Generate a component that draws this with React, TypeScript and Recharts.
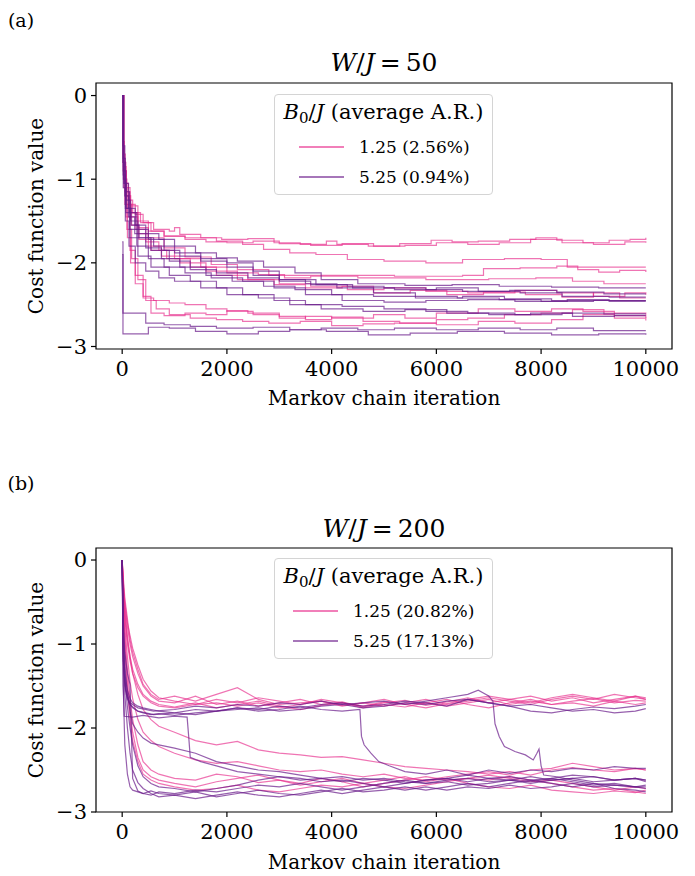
import React from "react"
import { LineChart, Line, XAxis, YAxis, ReferenceArea } from "recharts"

const PINK = "#e7298a"
const PURPLE = "#6a1b8a"
const FONT = "'DejaVu Serif', 'Noto Serif', 'Liberation Serif', serif"

const xTicks = [0, 2000, 4000, 6000, 8000, 10000]
const yTicks = [0, -1, -2, -3]

// (a) W/J = 50, B0/J = 1.25 — [iteration, cost] step points
const a125: number[][][] = [
  [[0, 0], [15, -0.55], [40, -0.9], [80, -1.15], [150, -1.3], [250, -1.42], [400, -1.52], [600, -1.6], [900, -1.62], [1000, -1.58], [1100, -1.66], [1500, -1.7], [1900, -1.72], [2400, -1.71], [2900, -1.76], [3400, -1.78], [3900, -1.74], [4100, -1.78], [4700, -1.8], [5300, -1.77], [5900, -1.73], [6300, -1.75], [6800, -1.74], [7400, -1.72], [7900, -1.7], [8300, -1.73], [8800, -1.76], [9300, -1.73], [9700, -1.72], [10000, -1.7]],
  [[0, 0], [20, -0.7], [60, -1.05], [120, -1.25], [200, -1.4], [350, -1.52], [550, -1.62], [800, -1.68], [1200, -1.72], [1600, -1.75], [2000, -1.76], [2500, -1.74], [3000, -1.77], [3600, -1.79], [4200, -1.77], [4800, -1.8], [5400, -1.79], [6000, -1.76], [6600, -1.78], [7200, -1.76], [7800, -1.72], [8400, -1.76], [9000, -1.78], [9600, -1.75], [10000, -1.76]],
  [[0, 0], [25, -0.8], [70, -1.1], [150, -1.32], [300, -1.5], [500, -1.62], [800, -1.68], [1200, -1.7], [1800, -1.74], [2300, -1.78], [2700, -1.84], [3200, -1.88], [3700, -1.9], [4300, -1.96], [5000, -1.98], [5800, -2.0], [6500, -1.96], [7300, -1.95], [8000, -1.96], [8500, -2.05], [10000, -2.05]],
  [[0, 0], [30, -0.9], [80, -1.2], [160, -1.4], [300, -1.58], [500, -1.7], [800, -1.82], [1200, -1.93], [1700, -2.02], [2200, -2.08], [2800, -2.15], [4000, -2.15], [5200, -2.16], [6500, -2.15], [6900, -2.07], [7600, -2.06], [8300, -2.04], [8700, -2.08], [9100, -2.11], [9500, -2.09], [10000, -2.11]],
  [[0, 0], [20, -0.8], [60, -1.15], [140, -1.4], [260, -1.6], [450, -1.75], [700, -1.85], [1000, -1.95], [1500, -2.05], [2000, -2.12], [2600, -2.14], [3100, -2.18], [3600, -2.16], [4500, -2.18], [5800, -2.2], [7000, -2.19], [7900, -2.18], [8600, -2.22], [9200, -2.25], [10000, -2.25]],
  [[0, 0], [30, -1.0], [90, -1.3], [180, -1.55], [320, -1.72], [550, -1.85], [850, -1.95], [1300, -2.05], [1800, -2.15], [2400, -2.2], [3000, -2.25], [3600, -2.28], [4300, -2.32], [5000, -2.3], [5800, -2.34], [6600, -2.36], [7500, -2.33], [8300, -2.36], [9000, -2.4], [9600, -2.36], [10000, -2.38]],
  [[0, 0], [25, -0.85], [75, -1.2], [160, -1.45], [300, -1.65], [500, -1.8], [750, -1.92], [1100, -2.0], [1600, -2.1], [2200, -2.2], [2900, -2.26], [3500, -2.3], [4200, -2.28], [4800, -2.36], [5500, -2.33], [6200, -2.38], [6900, -2.35], [7700, -2.38], [8400, -2.41], [9000, -2.36], [9500, -2.42], [10000, -2.42]],
  [[0, 0], [20, -0.9], [50, -1.3], [100, -1.7], [160, -2.0], [250, -2.25], [400, -2.42], [600, -2.45], [900, -2.48], [1200, -2.5], [1600, -2.55], [2000, -2.58], [2500, -2.62], [3000, -2.64], [3500, -2.68], [4000, -2.65], [4600, -2.7], [5300, -2.72], [6000, -2.68], [6600, -2.66], [7300, -2.62], [8000, -2.6], [8600, -2.56], [9200, -2.6], [10000, -2.62]],
  [[0, 0], [25, -1.0], [70, -1.45], [150, -1.85], [250, -2.15], [400, -2.4], [550, -2.6], [800, -2.63], [1200, -2.6], [1600, -2.62], [2000, -2.57], [2400, -2.6], [3000, -2.66], [3500, -2.64], [4000, -2.66], [4800, -2.62], [5400, -2.66], [6000, -2.6], [6800, -2.55], [7500, -2.58], [8200, -2.55], [8800, -2.58], [9400, -2.63], [10000, -2.66]],
  [[0, 0], [30, -1.1], [90, -1.6], [180, -1.95], [300, -2.2], [450, -2.45], [650, -2.55], [900, -2.62], [1300, -2.66], [1800, -2.68], [2300, -2.7], [2800, -2.72], [3400, -2.7], [4000, -2.75], [4600, -2.73], [5200, -2.72], [6000, -2.74], [6800, -2.7], [7500, -2.72], [8200, -2.68], [8800, -2.62], [9400, -2.66], [10000, -2.69]],
]

// (a) W/J = 50, B0/J = 5.25
const a525: number[][][] = [
  [[0, 0], [15, -0.6], [50, -1.05], [120, -1.35], [250, -1.55], [450, -1.65], [700, -1.72], [1000, -1.8], [1400, -1.88], [1800, -1.94], [2200, -1.98], [2700, -2.05], [3300, -2.12], [3800, -2.2], [4500, -2.25], [5400, -2.27], [6300, -2.26], [7200, -2.28], [8200, -2.29], [9100, -2.3], [10000, -2.3]],
  [[0, 0], [20, -0.75], [60, -1.15], [140, -1.4], [280, -1.6], [500, -1.72], [800, -1.85], [1100, -1.92], [1500, -1.98], [2000, -2.05], [2500, -2.15], [3000, -2.2], [3700, -2.26], [4300, -2.28], [5000, -2.3], [5800, -2.32], [6500, -2.34], [7400, -2.33], [8300, -2.35], [9200, -2.37], [10000, -2.37]],
  [[0, 0], [25, -0.9], [70, -1.25], [160, -1.5], [300, -1.7], [550, -1.85], [900, -1.98], [1300, -2.08], [1800, -2.12], [2400, -2.18], [3000, -2.22], [3600, -2.26], [4400, -2.3], [5200, -2.32], [6000, -2.3], [6800, -2.34], [7600, -2.36], [8400, -2.4], [9300, -2.41], [10000, -2.41]],
  [[0, 0], [15, -0.8], [50, -1.2], [120, -1.45], [240, -1.65], [450, -1.82], [750, -1.95], [1100, -2.05], [1600, -2.15], [2100, -2.22], [2700, -2.28], [3300, -2.32], [4000, -2.38], [4800, -2.4], [5600, -2.42], [6500, -2.4], [7300, -2.43], [8200, -2.45], [9100, -2.45], [10000, -2.45]],
  [[0, 0], [20, -0.95], [60, -1.35], [140, -1.6], [280, -1.8], [500, -1.95], [800, -2.05], [1200, -2.12], [1700, -2.18], [2300, -2.22], [2900, -2.3], [3500, -2.38], [4200, -2.45], [5000, -2.47], [5800, -2.45], [6600, -2.44], [7500, -2.46], [8500, -2.44], [9300, -2.46], [10000, -2.46]],
  [[0, 0], [25, -1.0], [70, -1.4], [150, -1.7], [300, -1.92], [550, -2.05], [900, -2.15], [1300, -2.22], [1800, -2.3], [2300, -2.38], [2900, -2.45], [3500, -2.5], [4200, -2.52], [5000, -2.55], [5800, -2.58], [6600, -2.6], [7500, -2.62], [8400, -2.6], [9200, -2.61], [10000, -2.61]],
  [[0, 0], [20, -1.1], [60, -1.5], [130, -1.8], [250, -2.0], [450, -2.1], [700, -2.18], [1000, -2.22], [1500, -2.3], [2000, -2.38], [2600, -2.42], [3200, -2.5], [3800, -2.55], [4600, -2.58], [5400, -2.56], [6200, -2.6], [7000, -2.62], [7800, -2.6], [8600, -2.64], [9400, -2.63], [10000, -2.63]],
  [[0, 0], [30, -1.05], [80, -1.35], [170, -1.55], [320, -1.7], [600, -1.8], [1000, -1.88], [1500, -1.95], [2000, -2.0], [2500, -2.1], [3000, -2.2], [3500, -2.25], [4100, -2.3], [4800, -2.36], [5600, -2.4], [6400, -2.42], [7200, -2.44], [8000, -2.46], [9000, -2.45], [10000, -2.45]],
  [[0, -1.75], [15, -2.6], [450, -2.72], [800, -2.74], [1300, -2.76], [1800, -2.78], [2500, -2.77], [3200, -2.8], [3800, -2.78], [4500, -2.8], [5200, -2.78], [6000, -2.8], [6800, -2.78], [7600, -2.8], [8300, -2.78], [9000, -2.81], [10000, -2.81]],
  [[0, -1.9], [15, -2.85], [500, -2.77], [900, -2.78], [1400, -2.82], [2000, -2.85], [2600, -2.82], [3200, -2.8], [3900, -2.82], [4700, -2.86], [5500, -2.84], [6400, -2.82], [7300, -2.84], [8200, -2.86], [9100, -2.85], [10000, -2.86]],
]

// (b) W/J = 200 — iterations shared by the traces below
const bGrid = [0, 20, 50, 100, 150, 200, 300, 400, 550, 700, 1000, 1400, 1800, 2200, 2600, 3000, 3400, 3800, 4200, 4600, 5000, 5400, 5800, 6200, 6600, 7000, 7400, 7800, 8200, 8600, 9000, 9400, 9800, 10000]

// (b) B0/J = 1.25
const b125: number[][] = [
  [0, -0.3, -0.55, -0.8, -1.0, -1.15, -1.35, -1.5, -1.62, -1.68, -1.7, -1.62, -1.72, -1.68, -1.74, -1.7, -1.66, -1.72, -1.69, -1.75, -1.7, -1.67, -1.73, -1.69, -1.64, -1.7, -1.66, -1.62, -1.68, -1.64, -1.7, -1.66, -1.62, -1.64],
  [0, -0.2, -0.45, -0.7, -0.95, -1.1, -1.3, -1.48, -1.6, -1.66, -1.62, -1.68, -1.6, -1.52, -1.66, -1.72, -1.7, -1.68, -1.73, -1.7, -1.74, -1.7, -1.66, -1.72, -1.68, -1.64, -1.68, -1.72, -1.66, -1.62, -1.66, -1.6, -1.64, -1.66],
  [0, -0.35, -0.65, -0.95, -1.15, -1.3, -1.48, -1.6, -1.68, -1.72, -1.75, -1.7, -1.76, -1.72, -1.68, -1.74, -1.78, -1.73, -1.7, -1.76, -1.72, -1.75, -1.7, -1.66, -1.72, -1.76, -1.7, -1.66, -1.72, -1.68, -1.65, -1.7, -1.67, -1.68],
  [0, -0.25, -0.5, -0.75, -0.9, -1.05, -1.25, -1.42, -1.56, -1.64, -1.68, -1.72, -1.66, -1.7, -1.64, -1.68, -1.72, -1.66, -1.7, -1.74, -1.69, -1.72, -1.76, -1.71, -1.66, -1.62, -1.66, -1.7, -1.64, -1.6, -1.64, -1.68, -1.62, -1.66],
  [0, -0.4, -0.7, -1.0, -1.2, -1.35, -1.52, -1.62, -1.7, -1.74, -1.76, -1.72, -1.7, -1.74, -1.7, -1.76, -1.72, -1.68, -1.74, -1.7, -1.66, -1.72, -1.7, -1.74, -1.7, -1.66, -1.72, -1.68, -1.72, -1.7, -1.74, -1.68, -1.72, -1.7],
  [0, -0.3, -0.6, -0.9, -1.15, -1.35, -1.6, -1.78, -1.9, -1.98, -2.05, -2.15, -2.2, -2.16, -2.26, -2.3, -2.32, -2.35, -2.34, -2.38, -2.42, -2.46, -2.48, -2.5, -2.52, -2.55, -2.52, -2.56, -2.5, -2.47, -2.5, -2.52, -2.48, -2.5],
  [0, -0.45, -0.8, -1.15, -1.45, -1.65, -1.9, -2.05, -2.15, -2.22, -2.3, -2.38, -2.42, -2.4, -2.45, -2.5, -2.52, -2.5, -2.55, -2.58, -2.55, -2.6, -2.62, -2.58, -2.55, -2.52, -2.56, -2.5, -2.48, -2.42, -2.46, -2.5, -2.48, -2.5],
  [0, -0.5, -0.9, -1.3, -1.65, -1.9, -2.2, -2.4, -2.5, -2.55, -2.6, -2.62, -2.55, -2.58, -2.65, -2.62, -2.68, -2.64, -2.6, -2.66, -2.62, -2.58, -2.64, -2.6, -2.66, -2.7, -2.72, -2.68, -2.74, -2.76, -2.78, -2.75, -2.77, -2.74],
  [0, -0.55, -1.0, -1.45, -1.8, -2.05, -2.35, -2.5, -2.58, -2.62, -2.66, -2.7, -2.64, -2.6, -2.56, -2.62, -2.66, -2.6, -2.64, -2.7, -2.66, -2.62, -2.58, -2.62, -2.6, -2.56, -2.6, -2.64, -2.62, -2.66, -2.7, -2.74, -2.7, -2.72],
  [0, -0.6, -1.1, -1.55, -1.9, -2.15, -2.4, -2.55, -2.62, -2.66, -2.7, -2.74, -2.72, -2.68, -2.74, -2.76, -2.72, -2.68, -2.7, -2.66, -2.7, -2.72, -2.68, -2.64, -2.6, -2.62, -2.58, -2.62, -2.66, -2.7, -2.74, -2.72, -2.76, -2.78],
]

// (b) B0/J = 5.25 on the shared grid
const b525: number[][] = [
  [0, -1.2, -1.5, -1.65, -1.72, -1.76, -1.8, -1.82, -1.84, -1.83, -1.85, -1.82, -1.8, -1.76, -1.78, -1.74, -1.76, -1.72, -1.7, -1.74, -1.72, -1.68, -1.7, -1.74, -1.66, -1.7, -1.74, -1.72, -1.76, -1.8, -1.78, -1.82, -1.8, -1.77],
  [0, -1.0, -1.35, -1.55, -1.65, -1.7, -1.74, -1.76, -1.78, -1.8, -1.82, -1.84, -1.8, -1.78, -1.76, -1.8, -1.78, -1.74, -1.72, -1.76, -1.74, -1.7, -1.72, -1.68, -1.66, -1.7, -1.74, -1.8, -1.82, -1.78, -1.75, -1.77, -1.74, -1.72],
  [0, -1.5, -2.2, -2.55, -2.7, -2.74, -2.76, -2.78, -2.75, -2.78, -2.8, -2.76, -2.82, -2.78, -2.74, -2.78, -2.8, -2.76, -2.72, -2.76, -2.74, -2.7, -2.74, -2.7, -2.66, -2.7, -2.66, -2.62, -2.66, -2.7, -2.66, -2.72, -2.74, -2.76],
  [0, -0.9, -1.4, -1.75, -2.0, -2.2, -2.45, -2.58, -2.66, -2.7, -2.72, -2.76, -2.72, -2.68, -2.62, -2.58, -2.6, -2.64, -2.62, -2.66, -2.7, -2.66, -2.62, -2.6, -2.56, -2.6, -2.58, -2.62, -2.6, -2.56, -2.58, -2.62, -2.6, -2.64],
  [0, -1.1, -1.6, -2.0, -2.3, -2.5, -2.65, -2.72, -2.78, -2.82, -2.8, -2.84, -2.8, -2.76, -2.8, -2.82, -2.78, -2.74, -2.78, -2.74, -2.7, -2.74, -2.7, -2.74, -2.7, -2.72, -2.68, -2.72, -2.7, -2.66, -2.7, -2.68, -2.7, -2.68],
  [0, -0.8, -1.25, -1.6, -1.8, -1.95, -2.05, -2.12, -2.18, -2.2, -2.24, -2.3, -2.4, -2.45, -2.5, -2.52, -2.56, -2.6, -2.58, -2.62, -2.6, -2.64, -2.66, -2.62, -2.6, -2.64, -2.62, -2.66, -2.62, -2.6, -2.64, -2.62, -2.6, -2.62],
  [0, -0.7, -1.1, -1.35, -1.48, -2.6, -2.75, -2.78, -2.8, -2.76, -2.78, -2.74, -2.76, -2.72, -2.68, -2.7, -2.66, -2.7, -2.74, -2.7, -2.66, -2.62, -2.66, -2.64, -2.68, -2.66, -2.62, -2.64, -2.6, -2.64, -2.68, -2.66, -2.7, -2.72],
]

// (b) B0/J = 5.25 chains that fall from the upper to the lower basin
const b525Jumps: number[][][] = [
  [[0, 0], [20, -1.5], [40, -1.86], [200, -1.87], [400, -1.85], [700, -1.88], [1000, -1.86], [1240, -1.87], [1270, -2.1], [1300, -2.35], [1500, -2.4], [1800, -2.45], [2200, -2.52], [2600, -2.55], [3000, -2.58], [3400, -2.62], [3800, -2.6], [4200, -2.64], [4600, -2.6], [5000, -2.62], [5400, -2.66], [5800, -2.62], [6200, -2.6], [6600, -2.64], [7000, -2.6], [7400, -2.62], [7800, -2.58], [8200, -2.62], [8600, -2.6], [9000, -2.58], [9400, -2.62], [9800, -2.6], [10000, -2.62]],
  [[0, 0], [30, -1.3], [80, -1.6], [150, -1.72], [300, -1.8], [600, -1.84], [1000, -1.82], [1400, -1.78], [1800, -1.8], [2200, -1.76], [2600, -1.8], [3000, -1.78], [3400, -1.74], [3800, -1.78], [4200, -1.8], [4540, -1.78], [4570, -2.1], [4620, -2.2], [4750, -2.3], [4900, -2.4], [5100, -2.45], [5400, -2.52], [5800, -2.55], [6200, -2.5], [6600, -2.56], [7000, -2.5], [7400, -2.54], [7800, -2.5], [8200, -2.52], [8600, -2.48], [9000, -2.5], [9400, -2.46], [9800, -2.48], [10000, -2.48]],
  [[0, 0], [25, -1.2], [70, -1.55], [150, -1.7], [300, -1.76], [600, -1.8], [1000, -1.78], [1400, -1.74], [1800, -1.76], [2200, -1.72], [2600, -1.74], [3000, -1.7], [3400, -1.72], [3800, -1.68], [4200, -1.72], [4600, -1.7], [5000, -1.68], [5400, -1.72], [5800, -1.68], [6200, -1.64], [6600, -1.6], [6800, -1.55], [7000, -1.62], [7080, -1.68], [7120, -1.95], [7200, -2.1], [7300, -2.22], [7500, -2.28], [7700, -2.32], [7850, -2.38], [7920, -2.3], [7960, -2.25], [8000, -2.45], [8050, -2.56], [8300, -2.58], [8600, -2.62], [9000, -2.66], [9400, -2.68], [9800, -2.7], [10000, -2.7]],
]

const legendA = ["1.25 (2.56%)", "5.25 (0.94%)"]
const legendB = ["1.25 (20.82%)", "5.25 (17.13%)"]

const pairsToPts = (p: number[][]) => p.map(([x, y]) => ({ x, y }))
const gridToPts = (ys: number[]) => ys.map((y, i) => ({ x: bGrid[i], y }))

const fmt = (v: number) => (v < 0 ? `\u2212${-v}` : `${v}`)

type PanelProps = {
  top: number
  height: number
  marginTop: number
  marginBottom: number
  yDomain: [number, number]
  pink: { x: number; y: number }[][]
  purple: { x: number; y: number }[][]
  step: boolean
}

const Panel = ({ top, height, marginTop, marginBottom, yDomain, pink, purple, step }: PanelProps) => {
  const tickStyle = { fill: "#000", fontSize: 21, fontFamily: FONT }
  const lineType = step ? "stepAfter" : "linear"
  return (
    <div style={{ position: "absolute", left: 0, top }}>
      <LineChart width={695} height={height} margin={{ top: marginTop, right: 23, bottom: marginBottom, left: 26 }}>
        <XAxis
          dataKey="x"
          type="number"
          domain={[-500, 10500]}
          ticks={xTicks}
          tick={tickStyle}
          tickSize={5}
          tickMargin={7}
          height={50}
          axisLine={false}
          tickLine={{ stroke: "#000", strokeWidth: 1.2 }}
        />
        <YAxis
          type="number"
          domain={yDomain}
          ticks={yTicks}
          tickFormatter={fmt}
          tick={tickStyle}
          tickSize={5}
          tickMargin={4}
          width={70}
          axisLine={false}
          tickLine={{ stroke: "#000", strokeWidth: 1.2 }}
        />
        {pink.map((d, i) => (
          <Line key={`p${i}`} data={d} dataKey="y" type={lineType} stroke={PINK} strokeOpacity={0.65} strokeWidth={1.2} dot={false} activeDot={false} isAnimationActive={false} />
        ))}
        {purple.map((d, i) => (
          <Line key={`q${i}`} data={d} dataKey="y" type={lineType} stroke={PURPLE} strokeOpacity={0.7} strokeWidth={1.2} dot={false} activeDot={false} isAnimationActive={false} />
        ))}
        <ReferenceArea x1={-500} x2={10500} y1={yDomain[0]} y2={yDomain[1]} fill="none" stroke="#000" strokeWidth={1.2} ifOverflow="visible" />
      </LineChart>
    </div>
  )
}

const Text = ({ x, y, size, children, rotate }: { x: number; y: number; size: number; children: React.ReactNode; rotate?: boolean }) => (
  <div
    style={{
      position: "absolute",
      left: x,
      top: y,
      transform: `translate(-50%, -50%)${rotate ? " rotate(-90deg)" : ""}`,
      fontSize: size,
      fontFamily: FONT,
      whiteSpace: "nowrap",
      lineHeight: 1,
      color: "#000",
    }}
  >
    {children}
  </div>
)

const LegendBox = ({ top, labels, lineLeft, textLeft }: { top: number; labels: string[]; lineLeft: number; textLeft: number }) => (
  <div
    style={{
      position: "absolute",
      left: 274,
      top,
      width: 219,
      height: 101,
      border: "1px solid #d4d4d4",
      borderRadius: 4,
      background: "rgba(255,255,255,0.85)",
      boxSizing: "border-box",
      fontFamily: FONT,
    }}
  >
    <div style={{ position: "absolute", left: 0, width: "100%", top: 19, transform: "translateY(-50%)", textAlign: "center", fontSize: 21, lineHeight: 1 }}>
      <i>B</i>
      <sub style={{ fontSize: 15, verticalAlign: "-4px" }}>0</sub>/<i>J</i> (average A.R.)
    </div>
    {labels.map((l, i) => (
      <React.Fragment key={l}>
        <div
          style={{
            position: "absolute",
            left: lineLeft - 274,
            top: 51 + i * 29.5,
            width: 45,
            height: 2,
            background: i === 0 ? PINK : PURPLE,
            opacity: 0.6,
          }}
        />
        <div style={{ position: "absolute", left: textLeft - 274, top: 52 + i * 29.5, transform: "translateY(-50%)", fontSize: 17, lineHeight: 1 }}>{l}</div>
      </React.Fragment>
    ))}
  </div>
)

export default function App() {
  return (
    <div style={{ position: "absolute", left: 0, top: 0, width: 695, height: 876, background: "#fff" }}>
      <Panel
        top={0}
        height={440}
        marginTop={83}
        marginBottom={41}
        yDomain={[-3.03, 0.15]}
        pink={a125.map(pairsToPts)}
        purple={a525.map(pairsToPts)}
        step
      />
      <Panel
        top={440}
        height={436}
        marginTop={108}
        marginBottom={14}
        yDomain={[-3.0, 0.143]}
        pink={b125.map(gridToPts)}
        purple={[...b525.map(gridToPts), ...b525Jumps.map(pairsToPts)]}
        step={false}
      />
      <Text x={21} y={20} size={19}>(a)</Text>
      <Text x={384} y={62} size={25}>
        <i>W</i>/<i>J</i>{"\u2009=\u200950"}
      </Text>
      <Text x={384} y={398} size={20}>Markov chain iteration</Text>
      <Text x={36} y={216} size={20} rotate>Cost function value</Text>
      <LegendBox top={94} labels={legendA} lineLeft={298} textLeft={358} />

      <Text x={21} y={483} size={19}>(b)</Text>
      <Text x={384} y={528} size={25}>
        <i>W</i>/<i>J</i>{"\u2009=\u2009200"}
      </Text>
      <Text x={384} y={862} size={20}>Markov chain iteration</Text>
      <Text x={36} y={680} size={20} rotate>Cost function value</Text>
      <LegendBox top={558} labels={legendB} lineLeft={292} textLeft={352} />
    </div>
  )
}
